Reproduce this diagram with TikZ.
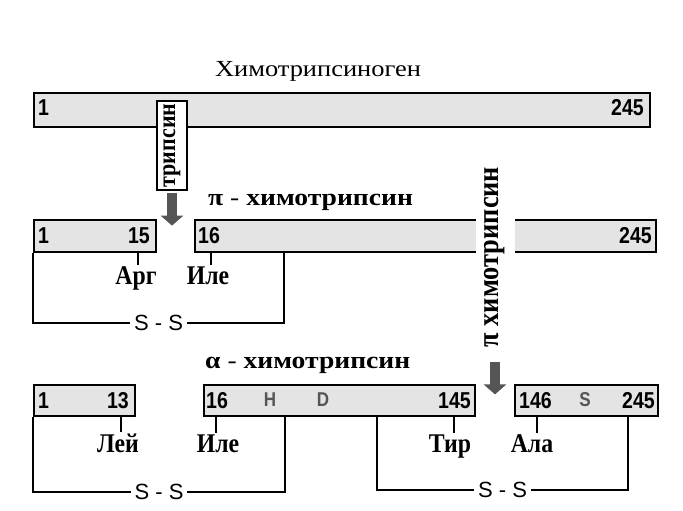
\documentclass[tikz,border=0pt]{standalone}
\usepackage{fontspec}
\setmainfont{Liberation Serif}
\setsansfont{Liberation Sans}
\newfontfamily\wideserif[FakeStretch=1.15]{Liberation Serif}
\newfontfamily\narrowserif[FakeStretch=0.88]{Liberation Serif}
\newfontfamily\narrowsans[FakeStretch=0.85]{Liberation Sans}
\usepackage{tikz}
\usetikzlibrary{arrows.meta}
\definecolor{chaingray}{HTML}{E4E4E4}
\definecolor{arrowgray}{HTML}{555555}
\tikzset{
  chain/.style={draw, fill=chaingray, line width=2pt, inner sep=0pt, anchor=north west},
  num/.style={font=\narrowsans\bfseries\fontsize{23}{25}\selectfont, inner sep=0pt},
  site/.style={font=\narrowsans\bfseries\fontsize{20}{22}\selectfont, text=arrowgray, inner sep=0pt},
  res/.style={font=\narrowserif\bfseries\fontsize{27}{29}\selectfont, inner sep=1pt, anchor=base},
  form/.style={font=\wideserif\bfseries\fontsize{24}{26}\selectfont, inner sep=0pt, anchor=base west},
  enzyme/.style={font=\narrowserif\bfseries\fontsize{25}{27}\selectfont, rotate=90, fill=white, inner sep=0pt},
  link/.style={line width=1.4pt},
  ss/.style={font=\sffamily\fontsize{22}{24}\selectfont, fill=white, inner xsep=4pt, inner ysep=1pt},
  cut/.style={line width=10pt, draw=arrowgray, -{Triangle[width=22pt,length=10pt]}},
}

\begin{document}
\begin{tikzpicture}[x=1pt,y=-1pt]
	\useasboundingbox (0,0) rectangle (683,511);

	\node[anchor=base, font=\wideserif\fontsize{23}{25}\selectfont, inner sep=0pt] (title) at (318,77) {Химотрипсиноген};

	\node[chain, minimum width=616pt, minimum height=34pt] (zym) at (33,92) {};
	\node[num, anchor=west] (zym-first) at ([xshift=5pt,yshift=2pt]zym.west) {1};
	\node[num, anchor=east] (zym-last) at ([xshift=-7pt,yshift=2pt]zym.east) {245};

	\node[enzyme, draw, line width=1.3pt, minimum width=89pt, minimum height=30pt] (tryp) at (172,145.5) {трипсин};
	\draw[cut] ([yshift=-2pt]tryp.west) -- ++(0,33);

	\node[form] (pilabel) at (208,205) {π {\mdseries -} химотрипсин};

	\node[chain, minimum width=122pt, minimum height=32pt] (piA) at (33,219) {};
	\node[chain, minimum width=461pt, minimum height=32pt] (piB) at (194,219) {};
	\node[num, anchor=west] (piA-first) at ([xshift=5pt]piA.west) {1};
	\node[num, anchor=east] (piA-last) at ([xshift=-7pt]piA.east) {15};
	\node[num, anchor=west] (piB-first) at ([xshift=4pt]piB.west) {16};
	\node[num, anchor=east] (piB-last) at ([xshift=-5pt]piB.east) {245};

	\node[enzyme, font=\narrowserif\bfseries\fontsize{30}{32}\selectfont, minimum height=39pt, inner xsep=3pt] (pichy) at (495,257) {π химотрипсин};
	\draw[cut] ([yshift=-12pt]pichy.west) -- ++(0,32);

	\coordinate (p15) at (138,251);
	\coordinate (p16) at (211,251);
	\node[res] (arg) at (136,284) {Арг};
	\node[res] (ile) at (208,284) {Иле};
	\draw[link] (p15) -- (p15 |- arg.north);
	\draw[link] (p16) -- (p16 |- ile.north);

	\coordinate (brA) at (284,251);
	\draw[link] (piA.south west) -- ++(0,70) -| node[ss,pos=0.25] {S - S} (brA);

	\node[form] (alabel) at (205,368) {α {\mdseries -} химотрипсин};

	\node[chain, minimum width=101pt, minimum height=31pt] (alA) at (33,384) {};
	\node[chain, minimum width=271pt, minimum height=31pt] (alB) at (203,384) {};
	\node[chain, minimum width=143pt, minimum height=31pt] (alC) at (514,384) {};
	\node[num, anchor=west] (alA-first) at ([xshift=5pt]alA.west) {1};
	\node[num, anchor=east] (alA-last) at ([xshift=-7pt]alA.east) {13};
	\node[num, anchor=west] (alB-first) at ([xshift=3pt]alB.west) {16};
	\node[site] (his) at (270,399.5) {H};
	\node[site] (asp) at (323,399.5) {D};
	\node[num, anchor=east] (alB-last) at ([xshift=-5pt]alB.east) {145};
	\node[num, anchor=west] (alC-first) at ([xshift=5pt]alC.west) {146};
	\node[site] (ser) at (585,399.5) {S};
	\node[num, anchor=east] (alC-last) at ([xshift=-4pt]alC.east) {245};

	\coordinate (p13) at (121,415);
	\coordinate (p16b) at (216,415);
	\coordinate (p145) at (454,415);
	\coordinate (p146) at (537,415);
	\node[res] (leu) at (118,452) {Лей};
	\node[res] (ile2) at (218,452) {Иле};
	\node[res] (tyr) at (450,452) {Тир};
	\node[res] (ala) at (532,452) {Ала};
	\draw[link] (p13) -- (p13 |- leu.north);
	\draw[link] (p16b) -- (p16b |- ile2.north);
	\draw[link] (p145) -- (p145 |- tyr.north);
	\draw[link] (p146) -- (p146 |- ala.north);

	\coordinate (brL) at (285,415);
	\coordinate (brR1) at (377,415);
	\coordinate (brR2) at (628,415);
	\draw[link] (alA.south west) -- ++(0,75) -| node[ss,pos=0.25] {S - S} (brL);
	\draw[link] (brR1) -- ++(0,75) -| node[ss,pos=0.25] {S - S} (brR2);
\end{tikzpicture}
\end{document}
